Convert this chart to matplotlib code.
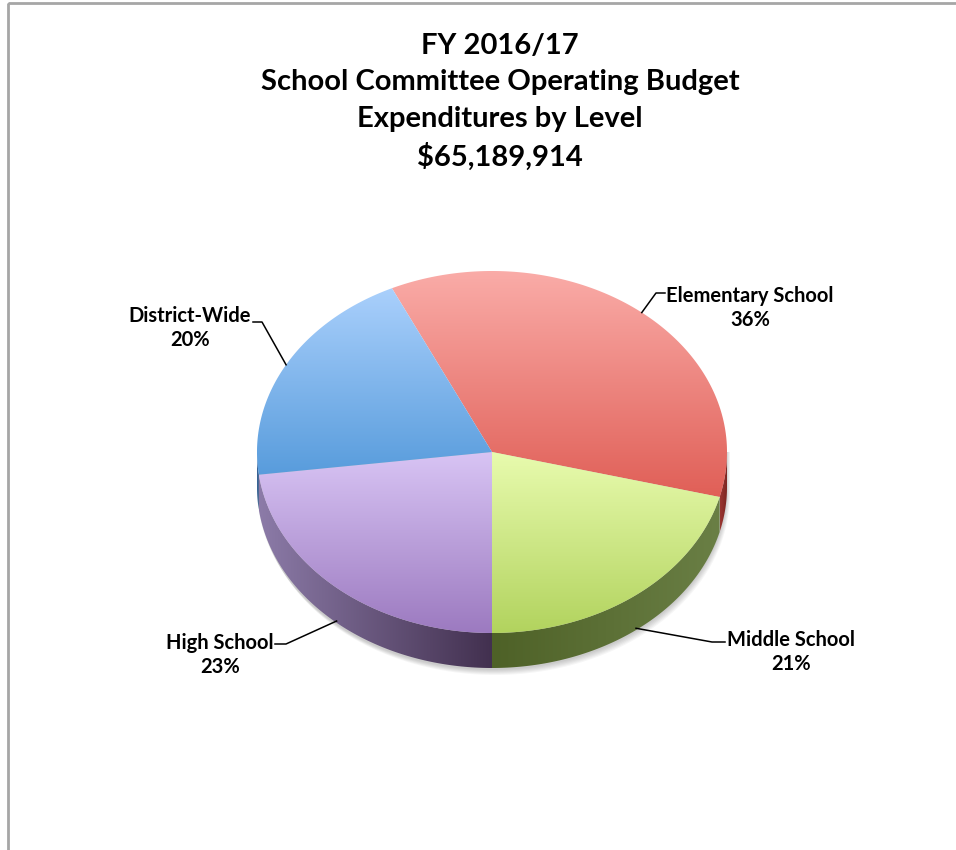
import numpy as np
import matplotlib
matplotlib.use("Agg")
import matplotlib.pyplot as plt
from matplotlib.patches import Polygon, Rectangle
from matplotlib.colors import to_rgba

# budget share by level (percent)
levels = ["Elementary School", "Middle School", "High School", "District-Wide"]
shares = [36, 21, 23, 20]

title = "FY 2016/17\nSchool Committee Operating Budget\nExpenditures by Level\n$65,189,914"

# top face: (light, dark) vertical gradient, side: (left, right) horizontal gradient
top_colors = [("#faaca8", "#e05f57"), ("#e8fbae", "#b2d35e"),
              ("#d8c4f4", "#9c7ac0"), ("#aad0fc", "#589cdc")]
side_colors = [("#9a3632", "#7a2420"), ("#4e6127", "#6a7f45"),
               ("#8c7ba8", "#42304f"), ("#3c6aa0", "#2c4e7c")]

# label layout: text centre, elbow point, stub end
label_pos = [(750, 308), (791, 652), (220, 655), (190, 328)]
label_elbow = [(656, 293), (712, 642), (286, 644), (262, 322)]
label_stub = [(665, 293), (725, 642), (275, 644), (253, 322)]

plt.rcParams['font.family'] = ['Lato', 'DejaVu Sans']

fig = plt.figure(figsize=(9.56, 8.5), dpi=100)
ax = fig.add_axes([0, 0, 1, 1])
ax.set_xlim(0, 956)
ax.set_ylim(850, 0)
ax.axis('off')

cx, cy = 492, 452      # pie centre
a, b = 235, 181        # ellipse semi-axes
depth = 35             # thickness of the pie

start = -90 + (shares[0] + shares[1]) * 3.6
fracs = np.array(shares) / sum(shares)
bounds = start - np.concatenate([[0], np.cumsum(fracs) * 360])


def pt(t, dy=0):
    t = np.radians(t)
    return cx + a * np.cos(t), cy - b * np.sin(t) + dy


def gradient_fill(poly, c1, c2, vertical=True, z=1):
    patch = Polygon(poly, closed=True, facecolor='none', edgecolor='none', zorder=z)
    ax.add_patch(patch)
    x0, y0 = poly.min(axis=0)
    x1, y1 = poly.max(axis=0)
    c1, c2 = np.array(to_rgba(c1)), np.array(to_rgba(c2))
    s = np.linspace(0, 1, 256)[:, None]
    cols = c1 * (1 - s) + c2 * s
    img = cols[:, None, :] if vertical else cols[None, :, :]
    im = ax.imshow(img, extent=(x0, x1, y1, y0), origin='upper',
                   aspect='auto', interpolation='bilinear', zorder=z)
    im.set_clip_path(patch)


# soft shadow below the pie
for k in range(6):
    t = np.linspace(180, 360, 200)
    xs, ys = pt(t, depth + 2 + k)
    sh = np.column_stack([np.concatenate([xs, xs[::-1]]),
                          np.concatenate([ys, (cy + np.zeros_like(xs))[::-1]])])
    ax.add_patch(Polygon(sh + [k * 0.6, 0], closed=True, facecolor='black',
                         edgecolor='none', alpha=0.035, zorder=0.5))

# side walls (only the front half is visible)
for i in range(len(shares)):
    t_hi, t_lo = bounds[i], bounds[i + 1]
    segs = []
    # intersect [t_lo, t_hi] with the front range [180, 360] modulo 360
    for off in (-360, 0, 360):
        s0 = max(t_lo, 180 + off)
        s1 = min(t_hi, 360 + off)
        if s1 > s0:
            segs.append((s0, s1))
    for s0, s1 in segs:
        t = np.linspace(s0, s1, 100)
        xs, ys = pt(t)
        xb, yb = pt(t[::-1], depth)
        poly = np.column_stack([np.concatenate([xs, xb]), np.concatenate([ys, yb])])
        gradient_fill(poly, side_colors[i][0], side_colors[i][1], vertical=False, z=1)

# top faces
for i in range(len(shares)):
    t = np.linspace(bounds[i], bounds[i + 1], 200)
    xs, ys = pt(t)
    poly = np.column_stack([np.concatenate([[cx], xs]), np.concatenate([[cy], ys])])
    gradient_fill(poly, top_colors[i][0], top_colors[i][1], vertical=True, z=2)

# labels with leader lines
for i, name in enumerate(levels):
    mid = (bounds[i] + bounds[i + 1]) / 2
    front = np.sin(np.radians(mid)) < 0
    ax_, ay_ = pt(mid, depth * 0.95 if front else 0)
    ex, ey = label_elbow[i]
    sx, sy = label_stub[i]
    ax.plot([ax_, ex, sx], [ay_, ey, sy], color='black', lw=1.1, zorder=3)
    tx, ty = label_pos[i]
    ax.text(tx, ty, f"{name}\n{shares[i]}%", ha='center', va='center',
            fontsize=14.5, fontweight='bold', linespacing=1.3, zorder=4)

ax.text(500, 102, title, ha='center', va='center', fontsize=21,
        fontweight='bold', linespacing=1.5)

# chart frame
ax.add_patch(Rectangle((8, 3), 1000, 900, facecolor='none',
                       edgecolor='#a6a6a6', lw=2, zorder=5))

fig.savefig("out.png", dpi=100)
